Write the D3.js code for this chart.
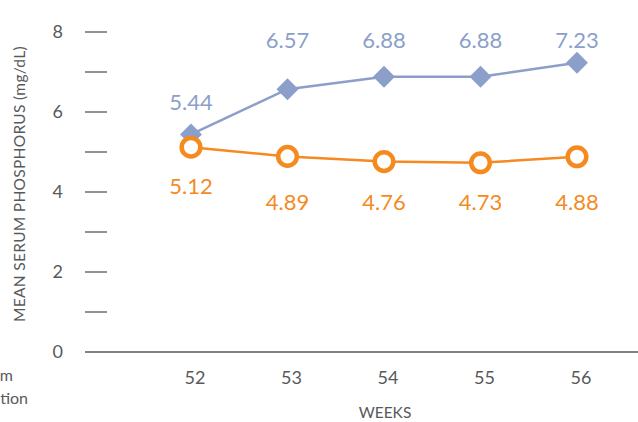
<!DOCTYPE html>
<html>
<head>
<meta charset="utf-8">
<script src="https://cdn.jsdelivr.net/npm/d3@7"></script>
<style>
  body { margin: 0; background: #fff; }
  svg { display: block; font-family: Lato, "Open Sans", sans-serif; }
</style>
</head>
<body>
<div id="chart"></div>
<script>
const weeks = [52, 53, 54, 55, 56]
const serieA = [5.44, 6.57, 6.88, 6.88, 7.23]   // blue diamonds
const serieB = [5.12, 4.89, 4.76, 4.73, 4.88]   // orange circles
const yTicks = [0, 1, 2, 3, 4, 5, 6, 7, 8]
const yTickLabels = ['0', '', '2', '', '4', '', '6', '', '8']

const width = 638, height = 422
const blue = '#8b9fca', orange = '#f58a1f', gray = '#58595b'

const svg = d3.select('#chart').append('svg')
    .attr('width', width)
    .attr('height', height)

const x = d3.scalePoint()
    .domain(weeks)
    .range([191, 577])

const y = d3.scaleLinear()
    .domain([0, 8])
    .range([352, 32])

// y ticks: short dashes, the 0 one is the baseline
const yAxis = svg.append('g')
yAxis.selectAll('line')
    .data(yTicks)
    .join('line')
    .attr('x1', 85)
    .attr('x2', d => d === 0 ? width : 107)
    .attr('y1', d => y(d))
    .attr('y2', d => y(d))
    .attr('stroke', gray)
    .attr('stroke-width', 1.3)
yAxis.selectAll('text')
    .data(yTicks)
    .join('text')
    .attr('x', 63)
    .attr('y', d => y(d))
    .attr('dy', '0.36em')
    .attr('text-anchor', 'end')
    .attr('fill', gray)
    .attr('font-size', 18)
    .text((d, i) => yTickLabels[i])

svg.append('text')
    .attr('transform', `translate(25, ${y(4) - 8}) rotate(-90)`)
    .attr('text-anchor', 'middle')
    .attr('fill', gray)
    .attr('font-size', 15.5)
    .attr('letter-spacing', 0.3)
    .text('MEAN SERUM PHOSPHORUS (mg/dL)')

// x labels
svg.append('g').selectAll('text')
    .data(weeks)
    .join('text')
    .attr('x', d => x(d) + 4)
    .attr('y', 384)
    .attr('text-anchor', 'middle')
    .attr('fill', gray)
    .attr('font-size', 18)
    .text(d => d)

svg.append('text')
    .attr('x', 385)
    .attr('y', 418)
    .attr('text-anchor', 'middle')
    .attr('fill', gray)
    .attr('font-size', 15.5)
    .text('WEEKS')

// cut-off category label at the left edge
svg.append('text').attr('x', 13).attr('y', 381).attr('text-anchor', 'end')
    .attr('fill', gray).attr('font-size', 16).text('m')
svg.append('text').attr('x', 28).attr('y', 404).attr('text-anchor', 'end')
    .attr('fill', gray).attr('font-size', 16).text('tion')

const line = d3.line()
    .x((d, i) => x(weeks[i]))
    .y(d => y(d))

// blue series
svg.append('path')
    .datum(serieA)
    .attr('d', line)
    .attr('fill', 'none')
    .attr('stroke', blue)
    .attr('stroke-width', 2.5)
svg.append('g').selectAll('path')
    .data(serieA)
    .join('path')
    .attr('d', d3.symbol(d3.symbolSquare, 240))
    .attr('transform', (d, i) => `translate(${x(weeks[i])},${y(d)}) rotate(45)`)
    .attr('fill', blue)

// orange series
svg.append('path')
    .datum(serieB)
    .attr('d', line)
    .attr('fill', 'none')
    .attr('stroke', orange)
    .attr('stroke-width', 2.5)
svg.append('g').selectAll('circle')
    .data(serieB)
    .join('circle')
    .attr('cx', (d, i) => x(weeks[i]))
    .attr('cy', d => y(d))
    .attr('r', 9.3)
    .attr('fill', '#fff')
    .attr('stroke', orange)
    .attr('stroke-width', 4.5)

// value labels: first one sits by its marker, the rest in a row
svg.append('g').selectAll('text')
    .data(serieA)
    .join('text')
    .attr('x', (d, i) => x(weeks[i]))
    .attr('y', (d, i) => i === 0 ? y(d) - 32 : y(7.8))
    .attr('dy', '0.36em')
    .attr('text-anchor', 'middle')
    .attr('fill', blue)
    .attr('font-size', 22)
    .text(d => d.toFixed(2))

svg.append('g').selectAll('text')
    .data(serieB)
    .join('text')
    .attr('x', (d, i) => x(weeks[i]))
    .attr('y', (d, i) => i === 0 ? y(d) + 39 : y(3.75))
    .attr('dy', '0.36em')
    .attr('text-anchor', 'middle')
    .attr('fill', orange)
    .attr('font-size', 22)
    .text(d => d.toFixed(2))
</script>
</body>
</html>
